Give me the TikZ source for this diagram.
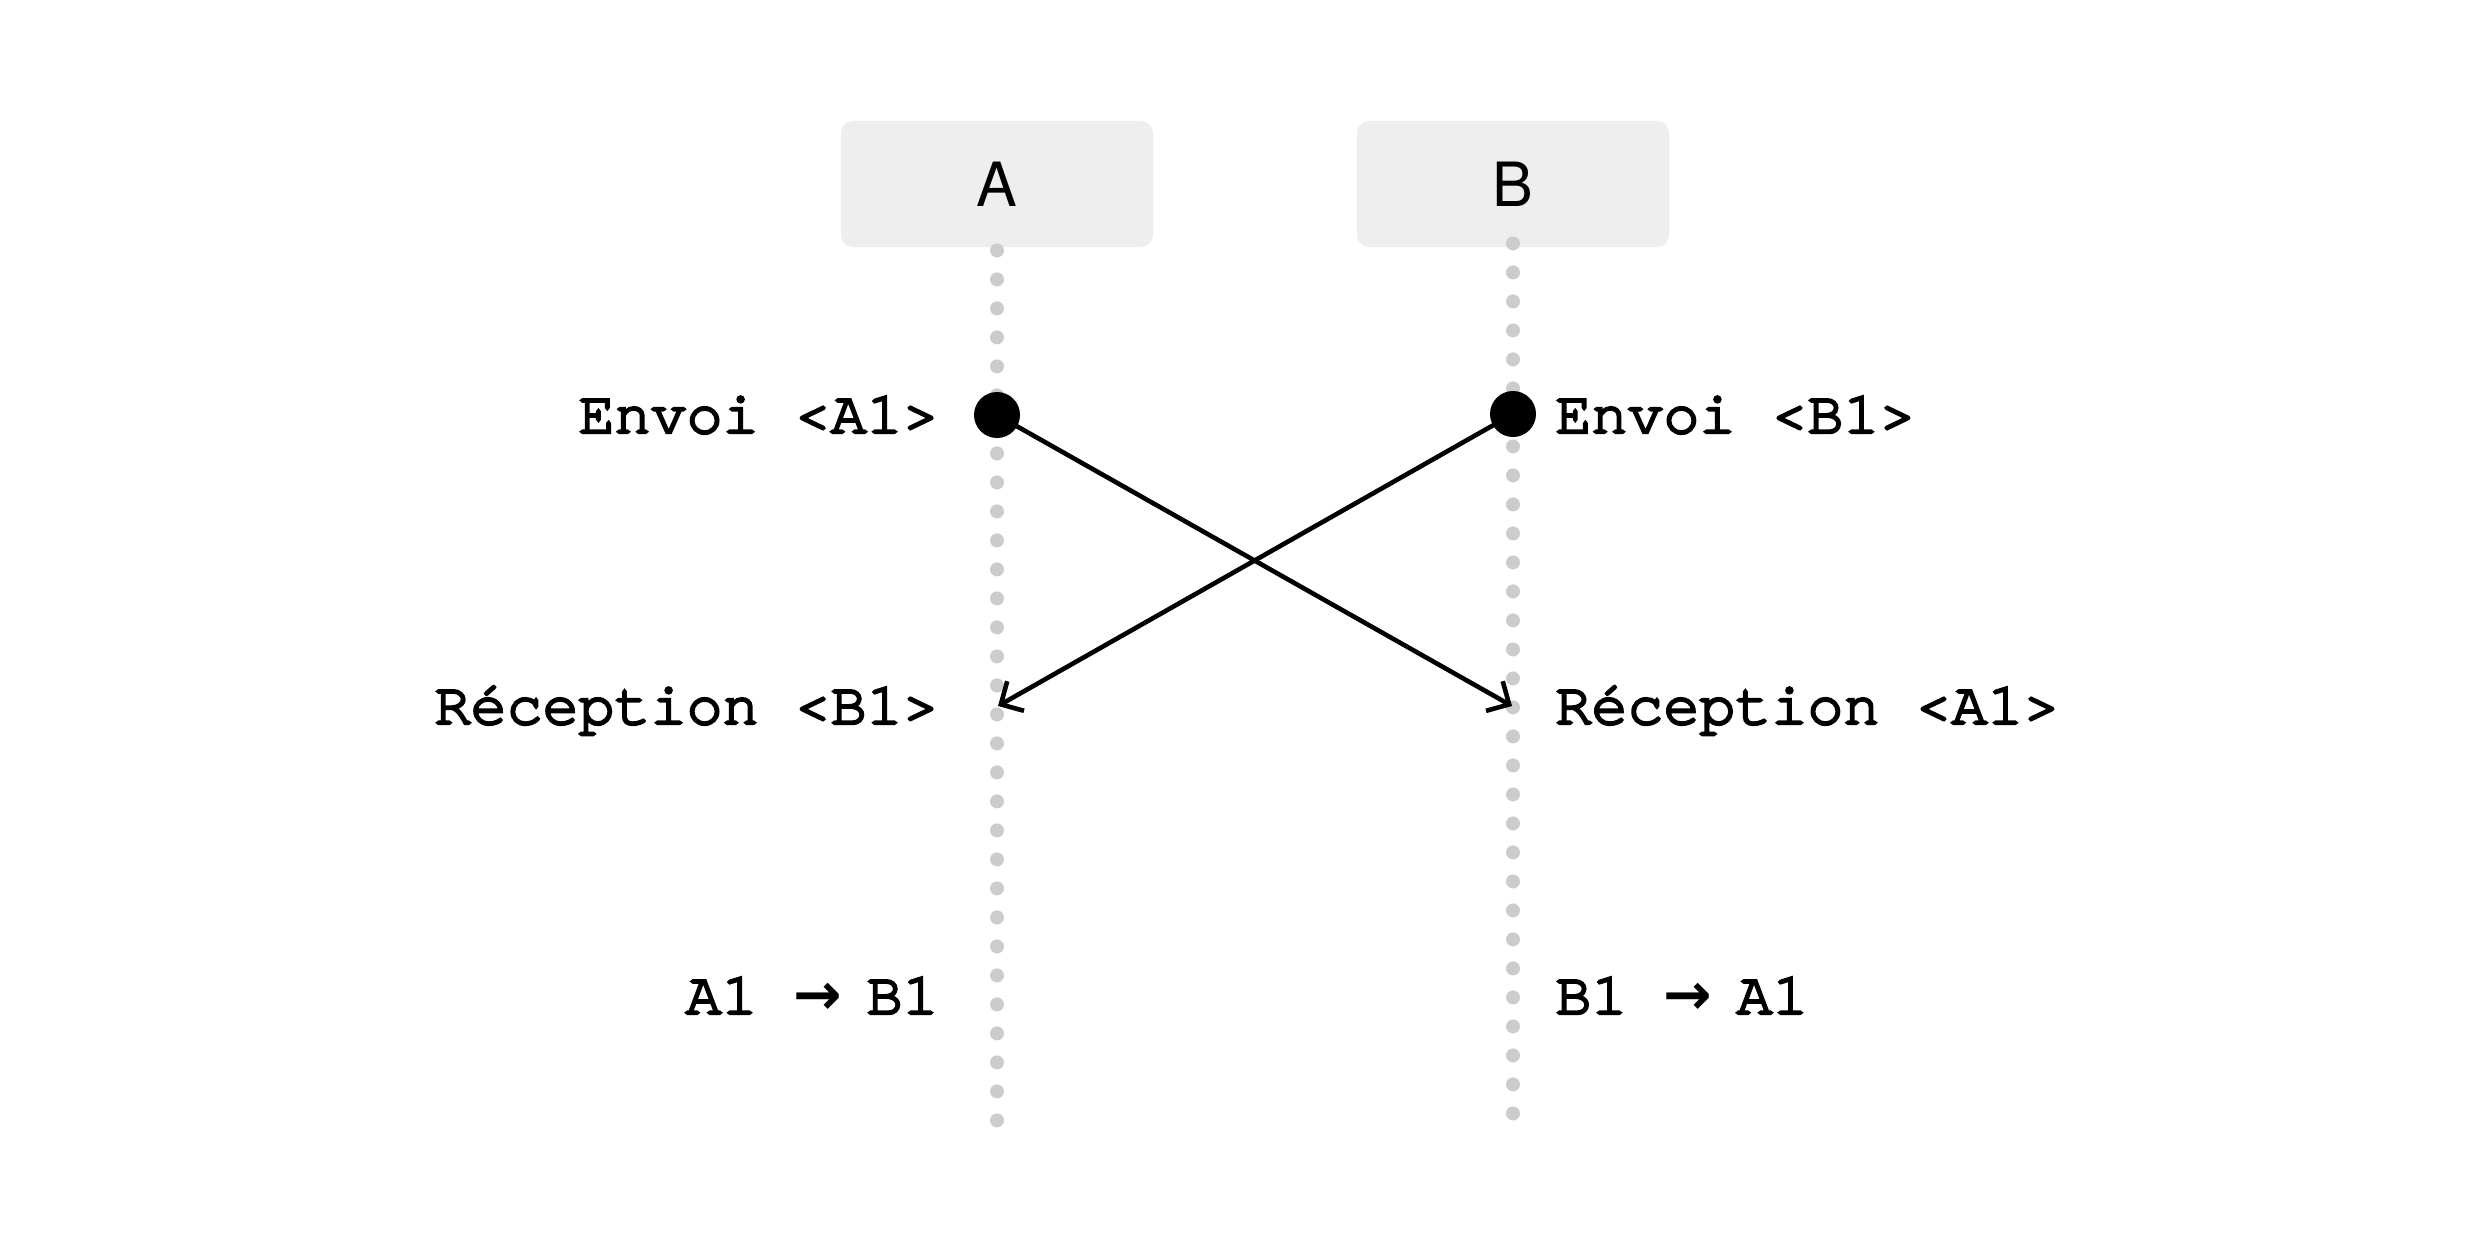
\documentclass[tikz,border=0pt]{standalone}
\usepackage{fontspec}
\usetikzlibrary{arrows.meta}
\newfontfamily\cur{texgyrecursor-regular.otf}[FakeBold=4]
\newfontfamily\hel{TeX Gyre Heros}
\newfontfamily\djv{DejaVu Sans Bold}
\definecolor{boxgray}{HTML}{EEEEEE}
\definecolor{dotgray}{HTML}{CCCCCC}
\newcommand\arrglyph{\makebox[36.5pt][l]{\djv\fontsize{29pt}{36pt}\selectfont →}}
\begin{document}
\begin{tikzpicture}[x=0.5pt,y=-0.5pt,
  actor/.style={fill=boxgray, rounded corners=6pt, minimum width=156pt, minimum height=63pt, inner sep=0pt, font=\hel\fontsize{30.5pt}{36pt}\selectfont},
  lifeline/.style={draw=dotgray, line width=7pt, line cap=round, dash pattern=on 0pt off 14.5pt},
  evt/.style={circle, fill=black, minimum size=23pt, inner sep=0pt},
  lbl/.style={inner sep=0pt, font=\cur\fontsize{30pt}{36pt}\selectfont},
  msg/.style={line width=2.3pt, -{Straight Barb[length=8.5pt,width=17pt,sharp]}}]
\useasboundingbox (0,0) rectangle (2466,1252);
\fill[white] (0,0) rectangle (2466,1252);
% actors
\node[actor] (A) at (997,184) {A};
\node[actor] (B) at (1513,184) {B};
% lifelines
\coordinate (aend) at (997,1123);
\coordinate (bend) at (1513,1115);
\draw[lifeline] ([yshift=-1.5pt]A.south) -- (aend);
\draw[lifeline] ([yshift=2pt]B.south) -- (bend);
% events
\coordinate (pa) at (997,415);
\coordinate (pb) at (1513,414);
\coordinate (ra) at (998,706);
\coordinate (rb) at (1512,706);
\draw[msg] (pa) -- (rb);
\draw[msg] (pb) -- (ra);
\node[evt] (ea) at (pa) {};
\node[evt] (eb) at (pb) {};
% labels
\node[lbl, anchor=base east] (sa) at (939,433) {Envoi <A1>};
\node[lbl, anchor=base west] (sb) at (1555,433) {Envoi <B1>};
\node[lbl, anchor=base east] (rca) at (939,724) {Réception <B1>};
\node[lbl, anchor=base west] (rcb) at (1555,724) {Réception <A1>};
\node[lbl, anchor=base east] (ta) at (939,1014) {A1 \arrglyph B1};
\node[lbl, anchor=base west] (tb) at (1555,1014) {B1 \arrglyph A1};
\end{tikzpicture}
\end{document}
